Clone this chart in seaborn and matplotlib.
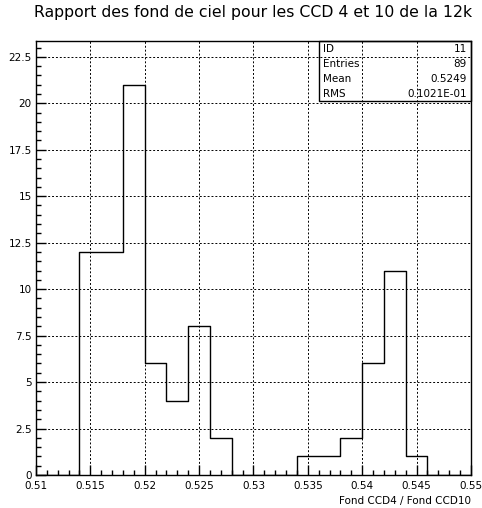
import numpy as np
import pandas as pd
import seaborn as sns
import matplotlib.pyplot as plt
from matplotlib.ticker import MultipleLocator, FuncFormatter

# Histogram contents (bin width 0.002 from 0.51 to 0.55)
bin_edges = [0.510, 0.512, 0.514, 0.516, 0.518, 0.520, 0.522, 0.524, 0.526, 0.528, 0.530,
             0.532, 0.534, 0.536, 0.538, 0.540, 0.542, 0.544, 0.546, 0.548, 0.550]
bin_counts = [0, 0, 12, 12, 21, 6, 4, 8, 2, 0, 0, 0, 1, 1, 2, 6, 11, 1, 0, 0]

stat_labels = ['ID', 'Entries', 'Mean', 'RMS']
stat_values = ['11', '89', '0.5249', '0.1021E-01']

title = 'Rapport des fond de ciel pour les CCD 4 et 10 de la 12k'
xlabel = 'Fond CCD4 / Fond CCD10'

centers = [(bin_edges[i] + bin_edges[i + 1]) / 2 for i in range(len(bin_counts))]
df = pd.DataFrame({'ratio': centers, 'count': bin_counts})

sns.set_style('ticks', {'text.color': 'black', 'xtick.color': 'black', 'ytick.color': 'black',
                        'axes.edgecolor': 'black'})
plt.rcParams['font.family'] = ['DejaVu Sans']

fig = plt.figure(figsize=(4.82, 5.08), dpi=100)
ax = fig.add_axes([0.0747, 0.065, 0.9023, 0.8543])

sns.histplot(data=df, x='ratio', weights='count', bins=bin_edges,
             element='step', fill=False, color='black', linewidth=1.0, ax=ax)

ax.set_xlim(0.51, 0.55)
ax.set_ylim(0, 23.35)
ax.xaxis.set_major_locator(MultipleLocator(0.005))
ax.xaxis.set_minor_locator(MultipleLocator(0.001))
ax.yaxis.set_major_locator(MultipleLocator(2.5))
ax.yaxis.set_minor_locator(MultipleLocator(0.5))
ax.xaxis.set_major_formatter(FuncFormatter(lambda v, p: f'{round(v, 3):g}'))
ax.yaxis.set_major_formatter(FuncFormatter(lambda v, p: f'{round(v, 1):g}'))

ax.tick_params(which='major', direction='in', length=7, width=1, labelsize=7.5,
               colors='black')
ax.tick_params(axis='x', which='major', pad=4)
ax.tick_params(axis='y', which='major', pad=3)
ax.tick_params(which='minor', direction='in', length=3.5, width=1, colors='black')
ax.grid(True, which='major', color='black', linestyle=(0, (2, 2)), linewidth=0.7)
for s in ax.spines.values():
    s.set_visible(True)
    s.set_linewidth(1)
    s.set_color('black')

ax.set_xlabel('')
ax.set_ylabel('')
fig.text(471 / 482, 1 - 501 / 508, xlabel, ha='right', va='center', fontsize=7.5, color='black')
fig.text(253 / 482, 1 - 12 / 508, title, ha='center', va='center', fontsize=11.3, color='black')

# statistics box
bx0, bx1 = 319 / 482, 471 / 482
by0, by1 = 1 - 101 / 508, 1 - 41 / 508
fig.patches.append(plt.Rectangle((bx0, by0), bx1 - bx0, by1 - by0, transform=fig.transFigure,
                                 fill=False, edgecolor='black', linewidth=1))
row_y = [49, 64, 79, 94]
for lab, val, y in zip(stat_labels, stat_values, row_y):
    fig.text(323 / 482, 1 - y / 508, lab, ha='left', va='center', fontsize=7.5, color='black')
    fig.text(467 / 482, 1 - y / 508, val, ha='right', va='center', fontsize=7.5, color='black')

fig.savefig('out.png', dpi=100)
